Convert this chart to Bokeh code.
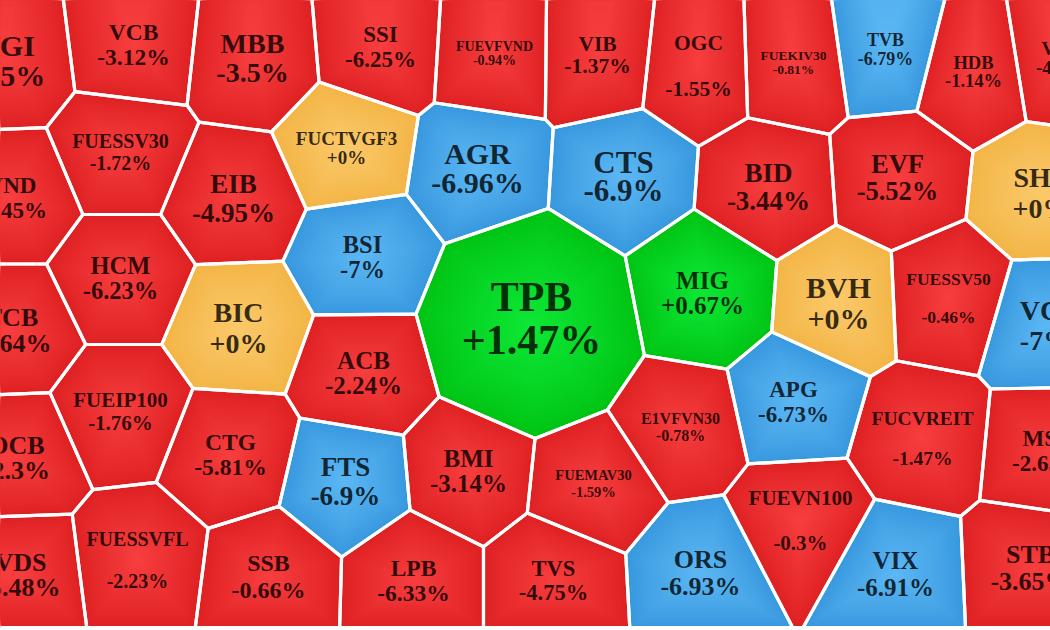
import numpy as np
from bokeh.plotting import figure
from bokeh.models import ColumnDataSource, Range1d
from bokeh.core.properties import value, field
from bokeh.embed import file_html
from bokeh.resources import INLINE

# ---------------- data ----------------
tickers = ["VGI", "VCB", "MBB", "SSI", "FUEVFVND", "VIB", "OGC", "FUEKIV30", "TVB", "HDB", "VPB",
           "VND", "FUESSV30", "EIB", "FUCTVGF3", "AGR", "CTS", "BID", "EVF", "SHB",
           "TCB", "HCM", "BSI", "BIC", "TPB", "MIG", "BVH", "FUESSV50", "VCI",
           "ACB", "OCB", "FUEIP100", "CTG", "FTS", "BMI", "E1VFVN30", "APG", "FUCVREIT", "FUEMAV30", "MSB",
           "VDS", "FUESSVFL", "SSB", "LPB", "TVS", "ORS", "FUEVN100", "VIX", "STB"]

changes = [-4.5, -3.12, -3.5, -6.25, -0.94, -1.37, -1.55, -0.81, -6.79, -1.14, -4.2,
           -4.45, -1.72, -4.95, 0, -6.96, -6.9, -3.44, -5.52, 0,
           -2.64, -6.23, -7, 0, 1.47, 0.67, 0, -0.46, -7,
           -2.24, -2.3, -1.76, -5.81, -6.9, -3.14, -0.78, -6.73, -1.47, -1.59, -2.65,
           -5.48, -2.23, -0.66, -6.33, -4.75, -6.93, -0.3, -6.91, -3.65]

# ---------------- layout (voronoi sites in screen px) ----------------
site_x = [6, 133, 252, 380, 494, 597, 698, 793, 885, 973, 1060,
          11, 120, 233, 346, 477, 623, 768, 897, 1041,
          11, 120, 362, 238, 531, 702, 838, 948, 1045,
          363, 16, 120, 230, 345, 468, 680, 793, 922, 593, 1047,
          20, 137, 268, 413, 553, 700, 800, 895, 1030]
site_y = [60, 44, 57, 46, 53, 54, 65, 62, 49, 71, 57,
          197, 151, 198, 147, 167, 176, 186, 177, 192,
          330, 277, 256, 327, 325, 292, 302, 297, 325,
          372, 457, 411, 454, 481, 470, 426, 401, 438, 483, 450,
          574, 559, 576, 580, 580, 572, 520, 573, 567]
site_w = [0] * len(tickers)
site_w[tickers.index("TPB")] = 7300
site_w[tickers.index("MIG")] = 1000

font_px = [30, 23.5, 28, 23, 14, 21.5, 21.5, 13.5, 18, 18.5, 19,
           23, 20, 27, 19, 30, 31, 27, 26.5, 28,
           26, 24.5, 24.5, 28, 42, 25, 30, 17.5, 28,
           25, 26, 21, 23.5, 27, 25, 16, 23, 19.5, 14.5, 23,
           26, 20, 24, 23.5, 22.5, 26, 21, 25, 26]
line_gap = [30, 25, 29, 25, 14, 22, 46, 14, 19, 18, 19,
            25, 22, 29, 19, 29, 28, 28, 27, 31,
            26, 25, 25, 31, 43, 25, 31, 38, 30,
            25, 25, 23, 25, 29, 25, 17, 25, 40, 17, 25,
            25, 42, 27, 25, 24, 27, 45, 27, 27]
label_dy = [0] * len(tickers)
label_dy[tickers.index("TPB")] = -7

W, H = 1050, 630
BOX = [(-200.0, -200.0), (1250.0, -200.0), (1250.0, 627.0), (-200.0, 627.0)]

PALETTE = {
    "down":  ((222, 32, 34), (248, 62, 62)),
    "floor": ((56, 152, 222), (92, 184, 244)),
    "up":    ((0, 196, 20), (14, 232, 54)),
    "ref":   ((243, 181, 70), (251, 201, 106)),
}


def status(c):
    if c > 0:
        return "up"
    if c == 0:
        return "ref"
    if c <= -6.7:
        return "floor"
    return "down"


def clip(poly, a, b, c):
    out = []
    n = len(poly)
    for k in range(n):
        P = poly[k]
        Q = poly[(k + 1) % n]
        fp = a * P[0] + b * P[1] - c
        fq = a * Q[0] + b * Q[1] - c
        if fp <= 0:
            out.append(P)
        if (fp <= 0) != (fq <= 0):
            t = fp / (fp - fq)
            out.append((P[0] + t * (Q[0] - P[0]), P[1] + t * (Q[1] - P[1])))
    return out


def power_cells(xs, ys, ws):
    cells = []
    n = len(xs)
    for i in range(n):
        poly = list(BOX)
        xi, yi, wi = xs[i], ys[i], ws[i]
        for j in range(n):
            if i == j:
                continue
            xj, yj, wj = xs[j], ys[j], ws[j]
            a = 2.0 * (xj - xi)
            b = 2.0 * (yj - yi)
            c = (xj * xj + yj * yj - wj) - (xi * xi + yi * yi - wi)
            poly = clip(poly, a, b, c)
            if not poly:
                break
        cells.append(poly)
    return cells


cells = power_cells(site_x, site_y, site_w)


def hexcol(rgb):
    return "#%02x%02x%02x" % tuple(int(round(v)) for v in rgb)


# gradient rings (radial-like fill from the site outwards)
g_xs, g_ys, g_col = [], [], []
STEPS = 24
for i, poly in enumerate(cells):
    edge, center = PALETTE[status(changes[i])]
    cx, cy = site_x[i], site_y[i]
    px = np.array([p[0] for p in poly])
    py = np.array([p[1] for p in poly])
    for k in range(STEPS):
        s = 1.0 - k / STEPS
        t = (1.0 - s) ** 0.85
        col = [e + (cc - e) * t for e, cc in zip(edge, center)]
        g_xs.append(list(cx + s * (px - cx)))
        g_ys.append(list(cy + s * (py - cy)))
        g_col.append(hexcol(col))

p = figure(width=W, height=H, x_range=Range1d(0, W), y_range=Range1d(H, 0),
           output_backend="svg", toolbar_location=None, min_border=0,
           x_axis_type=None, y_axis_type=None)
p.grid.visible = False
p.outline_line_color = None
p.background_fill_color = "white"
p.border_fill_color = "white"

p.patches(xs=g_xs, ys=g_ys, fill_color=g_col, line_color=None)

b_xs = [[q[0] for q in poly] for poly in cells]
b_ys = [[q[1] for q in poly] for poly in cells]
p.patches(xs=b_xs, ys=b_ys, fill_color=None, line_color="white", line_width=3.2, line_join="round")

lab_x, lab_y, lab_t, lab_fs = [], [], [], []
for i, t in enumerate(tickers):
    yc = site_y[i] + label_dy[i]
    g = line_gap[i] / 2.0
    fs = "%gpx" % font_px[i]
    lab_x += [site_x[i], site_x[i]]
    lab_y += [yc - g, yc + g]
    lab_t += [t, "%+g%%" % changes[i]]
    lab_fs += [fs, fs]

src = ColumnDataSource(dict(x=lab_x, y=lab_y, text=lab_t, fs=lab_fs))
p.text(x="x", y="y", text="text", source=src, text_font=value("Liberation Serif"),
       text_font_style="bold", text_font_size=field("fs"), text_align="center",
       text_baseline="middle", text_color="black", text_alpha=0.8)

open("out.html", "w").write(file_html(p, INLINE))
